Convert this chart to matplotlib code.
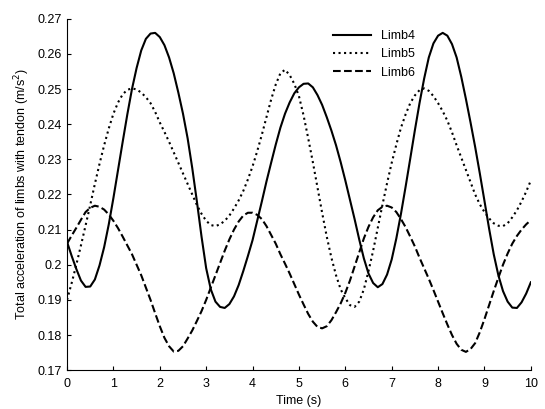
import numpy as np
import matplotlib
matplotlib.use("Agg")
import matplotlib.pyplot as plt

plt.rcParams['font.family'] = ['Liberation Sans', 'DejaVu Sans']

# time axis (s), sampled every 0.1 s
time = np.arange(101) / 10.0

limb4 = [0.2065, 0.2025, 0.1988, 0.1955, 0.1937, 0.1938, 0.1958, 0.1998, 0.2050, 0.2115,
         0.2190, 0.2270, 0.2350, 0.2428, 0.2500, 0.2560, 0.2610, 0.2643, 0.2658, 0.2660,
         0.2648, 0.2625, 0.2590, 0.2545, 0.2490, 0.2430, 0.2360, 0.2275, 0.2180, 0.2080,
         0.1990, 0.1930, 0.1895, 0.1880, 0.1877, 0.1888, 0.1910, 0.1942, 0.1982, 0.2025,
         0.2070, 0.2125, 0.2180, 0.2237, 0.2290, 0.2342, 0.2390, 0.2430, 0.2462, 0.2488,
         0.2505, 0.2515, 0.2516, 0.2505, 0.2483, 0.2455, 0.2420, 0.2382, 0.2340, 0.2292,
         0.2240, 0.2185, 0.2130, 0.2072, 0.2018, 0.1975, 0.1948, 0.1936, 0.1945, 0.1972,
         0.2015, 0.2075, 0.2145, 0.2222, 0.2302, 0.2383, 0.2460, 0.2530, 0.2590, 0.2630,
         0.2652, 0.2660, 0.2652, 0.2628, 0.2590, 0.2535, 0.2472, 0.2405, 0.2335, 0.2260,
         0.2182, 0.2103, 0.2030, 0.1970, 0.1925, 0.1895, 0.1878, 0.1877, 0.1893, 0.1918,
         0.1950]

limb5 = [0.1900, 0.1948, 0.2000, 0.2055, 0.2112, 0.2170, 0.2230, 0.2287, 0.2340, 0.2388,
         0.2430, 0.2462, 0.2485, 0.2498, 0.2502, 0.2499, 0.2490, 0.2477, 0.2460, 0.2435,
         0.2405, 0.2378, 0.2350, 0.2320, 0.2290, 0.2260, 0.2230, 0.2200, 0.2170, 0.2145,
         0.2125, 0.2113, 0.2110, 0.2115, 0.2125, 0.2140, 0.2160, 0.2183, 0.2210, 0.2243,
         0.2280, 0.2323, 0.2370, 0.2420, 0.2470, 0.2513, 0.2545, 0.2555, 0.2540, 0.2515,
         0.2480, 0.2425, 0.2360, 0.2292, 0.2220, 0.2148, 0.2080, 0.2020, 0.1970, 0.1930,
         0.1905, 0.1885, 0.1880, 0.1895, 0.1930, 0.1982, 0.2040, 0.2105, 0.2170, 0.2232,
         0.2290, 0.2342, 0.2390, 0.2428, 0.2460, 0.2482, 0.2497, 0.2502, 0.2495, 0.2480,
         0.2460, 0.2437, 0.2410, 0.2377, 0.2340, 0.2305, 0.2270, 0.2235, 0.2200, 0.2172,
         0.2150, 0.2132, 0.2118, 0.2111, 0.2110, 0.2118, 0.2135, 0.2155, 0.2180, 0.2208,
         0.2240]

limb6 = [0.2060, 0.2083, 0.2105, 0.2128, 0.2150, 0.2162, 0.2168, 0.2165, 0.2157, 0.2143,
         0.2125, 0.2104, 0.2080, 0.2055, 0.2030, 0.2000, 0.1970, 0.1935, 0.1900, 0.1862,
         0.1825, 0.1792, 0.1768, 0.1753, 0.1755, 0.1768, 0.1790, 0.1813, 0.1840, 0.1868,
         0.1900, 0.1935, 0.1970, 0.2005, 0.2040, 0.2072, 0.2100, 0.2123, 0.2140, 0.2148,
         0.2148, 0.2142, 0.2130, 0.2110, 0.2085, 0.2060, 0.2030, 0.2003, 0.1975, 0.1945,
         0.1915, 0.1887, 0.1860, 0.1838, 0.1823, 0.1819, 0.1825, 0.1842, 0.1865, 0.1890,
         0.1920, 0.1955, 0.1995, 0.2035, 0.2075, 0.2108, 0.2135, 0.2155, 0.2165, 0.2168,
         0.2163, 0.2150, 0.2130, 0.2107, 0.2080, 0.2052, 0.2020, 0.1990, 0.1960, 0.1928,
         0.1895, 0.1862, 0.1830, 0.1800, 0.1775, 0.1758, 0.1752, 0.1760, 0.1777, 0.1808,
         0.1845, 0.1885, 0.1925, 0.1963, 0.2000, 0.2032, 0.2060, 0.2082, 0.2100, 0.2115,
         0.2127]

fig = plt.figure(figsize=(5.45, 4.09), dpi=100)
ax = fig.add_axes([0.123, 0.095, 0.851, 0.859])

ax.plot(time, limb4, color='black', linestyle='-', linewidth=1.5, label='Limb4')
ax.plot(time, limb5, color='black', linestyle=':', linewidth=1.5, label='Limb5')
ax.plot(time, limb6, color='black', linestyle='--', linewidth=1.5, label='Limb6')

ax.set_xlim(0, 10)
ax.set_ylim(0.17, 0.27)
ax.set_xticks(range(0, 11))
ax.set_yticks(np.arange(0.17, 0.2701, 0.01))
ax.set_yticklabels(['0.17', '0.18', '0.19', '0.2', '0.21', '0.22',
                    '0.23', '0.24', '0.25', '0.26', '0.27'])
ax.tick_params(direction='in', length=3, labelsize=9, color='black')
ax.tick_params(axis='x', pad=6)
ax.spines['top'].set_visible(False)
ax.spines['right'].set_visible(False)

ax.set_xlabel('Time (s)', fontsize=9, labelpad=3)
ax.set_ylabel('Total acceleration of limbs with tendon (m/s$^2$)', fontsize=9, labelpad=4)

ax.legend(loc='upper left', bbox_to_anchor=(0.55, 1.0), frameon=False,
          fontsize=9, handlelength=3, labelspacing=0.5)

fig.savefig('out.png', dpi=100)
